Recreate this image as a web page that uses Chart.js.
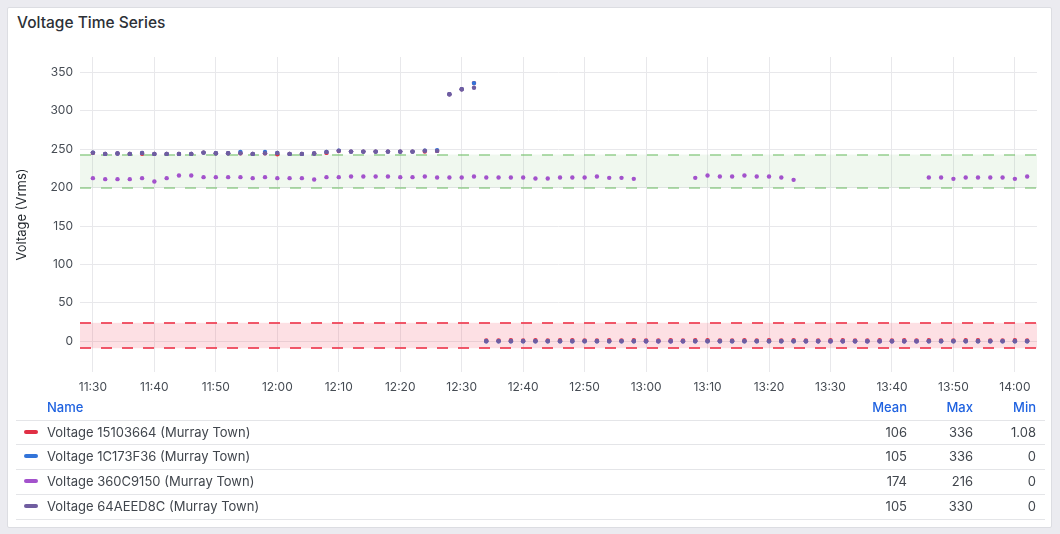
<!DOCTYPE html>
<html>
<head>
<meta charset="utf-8">
<script src="https://cdn.jsdelivr.net/npm/chart.js@4.4.1/dist/chart.umd.min.js"></script>
<style>
  html, body { margin:0; padding:0; }
  body { width:1060px; height:534px; background:#ebebf0; position:relative; overflow:hidden; font-family: Inter, "Noto Sans", sans-serif; }
  #panel { position:absolute; left:7px; top:7px; width:1043px; height:519px; background:#fff; border:1px solid #dcdde2; border-radius:2px; }
  #title { position:absolute; left:17px; top:14px; font-size:15.5px; font-weight:500; color:#2c3036; line-height:18px; }
  #chart { position:absolute; left:0; top:0; }
  .cell { position:absolute; font-size:13px; color:#41464d; white-space:nowrap; line-height:16px; }
  .hdr { color:#1f62e0; font-weight:500; }
  .sep { position:absolute; left:16px; width:1029px; height:1px; background:#e4e5e8; }
  .sw { position:absolute; left:24px; width:14px; height:4px; border-radius:2px; }
</style>
</head>
<body>
<div id="panel"></div>
<div id="title">Voltage Time Series</div>
<canvas id="chart" width="1060" height="400"></canvas>
<div id="legend"></div>
<script>
// ---- data ----
const times = ["11:30","11:32","11:34","11:36","11:38","11:40","11:42","11:44","11:46","11:48",
"11:50","11:52","11:54","11:56","11:58","12:00","12:02","12:04","12:06","12:08",
"12:10","12:12","12:14","12:16","12:18","12:20","12:22","12:24","12:26","12:28",
"12:30","12:32","12:34","12:36","12:38","12:40","12:42","12:44","12:46","12:48",
"12:50","12:52","12:54","12:56","12:58","13:00","13:02","13:04","13:06","13:08",
"13:10","13:12","13:14","13:16","13:18","13:20","13:22","13:24","13:26","13:28",
"13:30","13:32","13:34","13:36","13:38","13:40","13:42","13:44","13:46","13:48",
"13:50","13:52","13:54","13:56","13:58","14:00","14:02"];

const v15103664 = [245.2,243.9,244.3,243.9,244.0,243.9,243.9,243.9,243.9,245.6,
244.8,244.8,244.8,243.9,244.8,243.5,243.9,243.9,244.3,245.2,
247.5,246.9,246.9,246.9,246.9,246.9,246.9,246.9,247.8,321.5,
328,336,1.08,1.2,1.3,1.1,1.4,1.2,1.3,1.5,
1.2,1.1,1.3,1.2,1.4,1.2,1.1,1.3,1.2,1.3,
1.4,1.2,1.1,1.3,1.2,1.4,1.2,1.3,1.1,1.2,
1.3,1.4,1.2,1.1,1.3,1.2,1.4,1.2,1.3,1.1,
1.2,1.3,1.4,1.2,1.1,1.3,1.2];

const v1C173F36 = [245.6,243.9,244.3,243.9,245.2,243.9,243.9,243.9,243.9,245.6,
244.8,244.8,246.5,243.9,246.5,245.2,243.9,243.9,244.3,246.5,
248.2,246.9,246.9,246.9,246.9,246.9,246.9,248.2,248.8,321.5,
328,336,0,0,0,0,0,0,0,0,
0,0,0,0,0,0,0,0,0,0,
0,0,0,0,0,0,0,0,0,0,
0,0,0,0,0,0,0,0,0,0,
0,0,0,0,0,0,0];

const v360C9150 = [212.3,211,211,211,212.3,208,212.3,215.7,215.7,213.6,
213.6,213.6,213.6,212.3,213.6,212.3,212.3,212.3,210.5,213.6,
213.6,214.4,214.4,214.4,214.4,213.6,213.6,214.4,213.1,213.1,
213.1,214.4,213.1,213.1,213.1,213.1,211.9,211.9,213.1,213.1,
213.1,214.4,212.7,212.7,211.4,0,0,0,0,212.7,
215.7,214.4,214.4,215.7,214.4,214.4,213.1,210.1,0,0,
0,0,0,0,0,0,0,0,213.1,213.1,
211.4,213.1,213.1,213.1,213.1,211.4,214.4];

const v64AEED8C = [245.6,243.9,244.3,243.9,245.2,243.9,243.9,243.9,243.9,245.6,
244.8,244.8,244.8,243.9,244.8,245.2,243.9,243.9,244.3,246.5,
248.2,246.9,246.9,246.9,246.9,246.9,246.9,248.2,247.8,321.5,
328,330,0,0,0,0,0,0,0,0,
0,0,0,0,0,0,0,0,0,0,
0,0,0,0,0,0,0,0,0,0,
0,0,0,0,0,0,0,0,0,0,
0,0,0,0,0,0,0];

const seriesNames = ["Voltage 15103664 (Murray Town)","Voltage 1C173F36 (Murray Town)","Voltage 360C9150 (Murray Town)","Voltage 64AEED8C (Murray Town)"];
const seriesColors = ["#e02f44","#3274d9","#a352cc","#705da0"];
const seriesMean = ["106","105","174","105"];
const seriesMax = ["336","336","216","330"];
const seriesMin = ["1.08","0","0","0"];

const xTickLabels = ["11:30","11:40","11:50","12:00","12:10","12:20","12:30","12:40","12:50","13:00","13:10","13:20","13:30","13:40","13:50","14:00"];
const yTicks = [0,50,100,150,200,250,300,350];
const greenBand = [200, 243];
const redBand = [-9, 24];

// ---- helpers ----
const toMin = s => { const [h,m] = s.split(":").map(Number); return (h-11)*60 + m - 30; };
const xs = times.map(toMin);
const xTickVals = xTickLabels.map(toMin);
const pts = arr => arr.map((v,i) => ({x: xs[i], y: v}));
const allValues = [v15103664, v1C173F36, v360C9150, v64AEED8C];

const bandPlugin = {
  id: 'bands',
  beforeDatasetsDraw(chart) {
    const {ctx, chartArea: a, scales: {y}} = chart;
    const bands = [
      {r: greenBand, fill: 'rgba(115,191,105,0.11)', line: 'rgba(115,191,105,0.55)'},
      {r: redBand, fill: 'rgba(242,73,92,0.17)', line: 'rgba(238,70,90,0.9)'}
    ];
    ctx.save();
    bands.forEach(b => {
      const yTop = y.getPixelForValue(b.r[1]);
      const yBot = y.getPixelForValue(b.r[0]);
      ctx.fillStyle = b.fill;
      ctx.fillRect(a.left, yTop, a.right - a.left, yBot - yTop);
      ctx.strokeStyle = b.line;
      ctx.lineWidth = 2;
      ctx.setLineDash([11, 10]);
      [yTop, yBot].forEach(py => {
        ctx.beginPath();
        ctx.moveTo(a.left, Math.round(py));
        ctx.lineTo(a.right, Math.round(py));
        ctx.stroke();
      });
    });
    ctx.restore();
  }
};

const tickFont = {family: 'Inter', size: 12};
const tickColor = '#464c54';
const gridColor = '#e8e8eb';

new Chart(document.getElementById('chart'), {
  type: 'scatter',
  data: {
    datasets: allValues.map((arr, i) => ({
      label: seriesNames[i],
      data: pts(arr),
      backgroundColor: seriesColors[i],
      borderColor: seriesColors[i],
      pointRadius: 2.2,
      pointBorderWidth: 0,
      showLine: false,
      order: 3 - i
    }))
  },
  options: {
    responsive: false,
    animation: false,
    devicePixelRatio: 1,
    layout: {padding: {left: 0, top: 57, right: 23, bottom: 0}},
    plugins: {legend: {display: false}, tooltip: {enabled: false}},
    scales: {
      x: {
        type: 'linear', min: -2.1, max: 153.6,
        grid: {color: gridColor, drawTicks: false},
        border: {display: false},
        ticks: {font: tickFont, color: tickColor, padding: 8, maxRotation: 0,
          callback: v => { const i = xTickVals.indexOf(v); return i >= 0 ? xTickLabels[i] : ''; }},
        afterBuildTicks: s => { s.ticks = xTickVals.map(v => ({value: v})); },
        afterFit: s => { s.height = 28; }
      },
      y: {
        min: -40, max: 370,
        grid: {color: gridColor, drawTicks: false},
        border: {display: false},
        ticks: {font: tickFont, color: tickColor, padding: 7},
        afterBuildTicks: s => { s.ticks = yTicks.map(v => ({value: v})); },
        afterFit: s => { s.width = 80; },
        title: {display: true, text: 'Voltage (Vrms)', font: {family: 'Inter', size: 13}, color: '#24292e', padding: {top: 14, bottom: 0}}
      }
    }
  },
  plugins: [bandPlugin]
});

// ---- legend table ----
const lg = document.getElementById('legend');
let html = '';
const rowCenters = [432, 456, 481, 506];
const seps = [420, 444, 469, 494, 519];
html += `<div class="cell hdr" style="left:47px;top:399px">Name</div>`;
[['Mean',907],['Max',973],['Min',1036]].forEach(([t,r]) => {
  html += `<div class="cell hdr" style="right:${1060-r}px;top:399px">${t}</div>`;
});
seps.forEach(y => { html += `<div class="sep" style="top:${y}px"></div>`; });
seriesNames.forEach((n, i) => {
  const c = rowCenters[i];
  html += `<div class="sw" style="top:${c-2}px;background:${seriesColors[i]}"></div>`;
  html += `<div class="cell" style="left:47px;top:${c-8}px">${n}</div>`;
  html += `<div class="cell" style="right:${1060-907}px;top:${c-8}px">${seriesMean[i]}</div>`;
  html += `<div class="cell" style="right:${1060-973}px;top:${c-8}px">${seriesMax[i]}</div>`;
  html += `<div class="cell" style="right:${1060-1036}px;top:${c-8}px">${seriesMin[i]}</div>`;
});
lg.innerHTML = html;
</script>
</body>
</html>
